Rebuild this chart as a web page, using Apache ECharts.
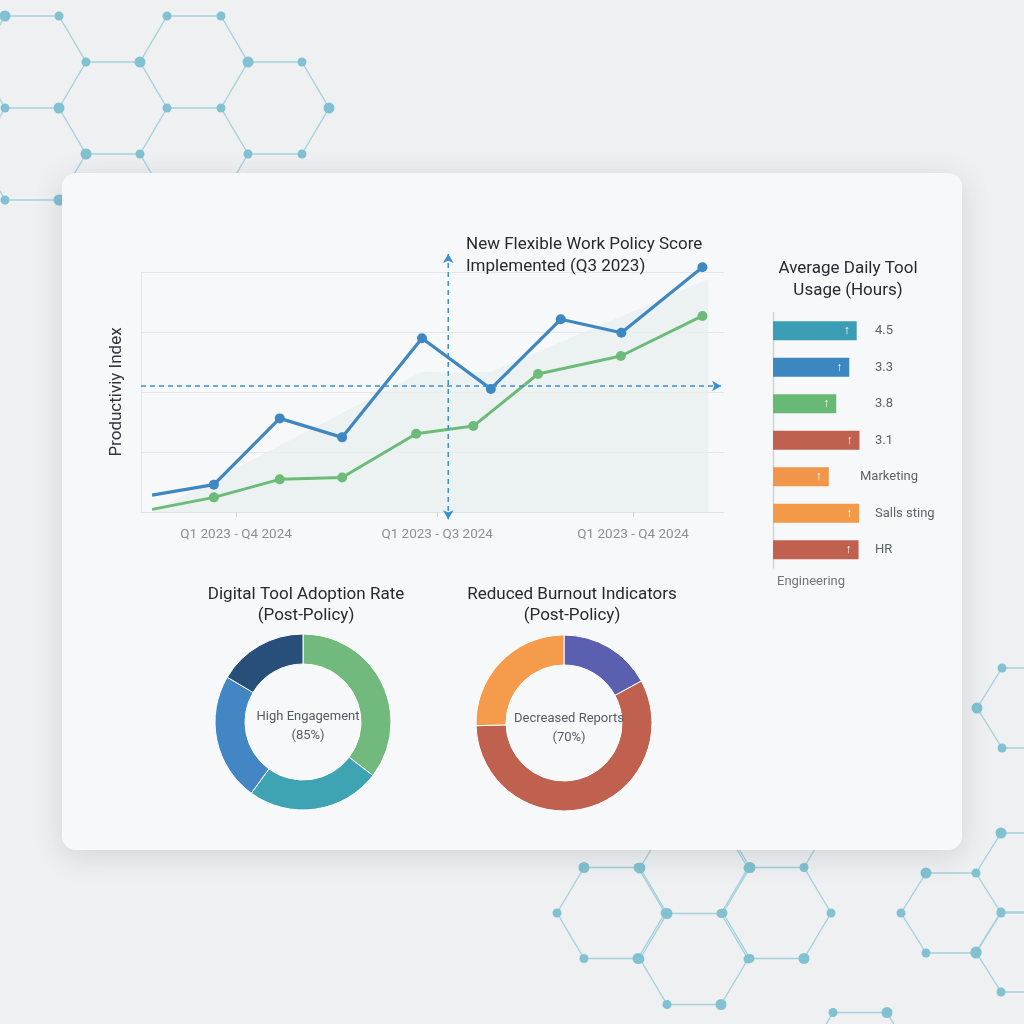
<!DOCTYPE html>
<html>
<head>
<meta charset="utf-8">
<script src="https://cdn.jsdelivr.net/npm/echarts@6/dist/echarts.min.js"></script>
<style>
  html, body { margin: 0; padding: 0; background: #eef0f2; }
  #main { width: 1024px; height: 1024px; }
</style>
</head>
<body>
<div id="main"></div>
<script>
// productivity lines (x on a 0..10 time scale, y = index 0..100)
const blueX  = [0.19, 1.25, 2.38, 3.45, 4.82, 6.0, 7.2, 8.24, 9.63];
const blueY  = [7, 11.4, 39, 31.1, 72.4, 51.3, 80.3, 74.7, 102];
const greenX = [0.19, 1.25, 2.38, 3.45, 4.72, 5.7, 6.81, 8.23, 9.63];
const greenY = [1.1, 6.1, 13.6, 14.4, 32.6, 35.8, 57.5, 65, 81.7];
const bandX  = [0.19, 4.82, 5.27, 6.0, 9.73];
const bandY  = [0, 58.5, 58, 58.3, 97];
const tickX  = [1.63, 5.08, 8.44];
const tickLabels = ['Q1 2023 - Q4 2024', 'Q1 2023 - Q3 2024', 'Q1 2023 - Q4 2024'];
const policyX = 5.27;
const policyRange = [107.5, -3];
const refY = 52.5;

// tool usage bars
const usageLabels = ['4.5', '3.3', '3.8', '3.1', 'Marketing', 'Salls sting', 'HR'];
const usageValues = [4.5, 4.1, 3.4, 4.65, 3.0, 4.63, 4.6];
const usageColors = ['#3a9db4', '#3d87c0', '#67b975', '#c0604f', '#f0954a', '#f39a48', '#c0604f'];

// donuts
const adoptionNames  = ['High', 'Moderate', 'Growing', 'Low'];
const adoptionValues = [35.4, 24.6, 23.5, 16.5];
const adoptionColors = ['#72b97e', '#3ea3b3', '#4287c4', '#284f7a'];
const burnoutNames  = ['Stable', 'Decreased', 'Improved'];
const burnoutValues = [17.1, 57.4, 25.5];
const burnoutColors = ['#5a5fb0', '#c0614f', '#f59c4c'];

const font = 'Roboto';

// decorative honeycomb in the page background
function honeycomb(cells, s, h) {
  const edges = new Map(), nodes = new Map(), els = [];
  cells.forEach(([cx, cy]) => {
    const v = [[cx - s / 2, cy - h], [cx + s / 2, cy - h], [cx + s, cy],
               [cx + s / 2, cy + h], [cx - s / 2, cy + h], [cx - s, cy]];
    v.forEach((p, i) => {
      const q = v[(i + 1) % 6];
      const key = [p, q].map(a => Math.round(a[0]) + ',' + Math.round(a[1])).sort().join('|');
      edges.set(key, [p, q]);
      nodes.set(Math.round(p[0]) + ',' + Math.round(p[1]), p);
    });
  });
  edges.forEach(([p, q]) => els.push({
    type: 'line', z: -10, silent: true,
    shape: { x1: p[0], y1: p[1], x2: q[0], y2: q[1] },
    style: { stroke: '#a3d2dc', lineWidth: 1.4 }
  }));
  let i = 0;
  nodes.forEach(p => els.push({
    type: 'circle', z: -9, silent: true,
    shape: { cx: p[0], cy: p[1], r: (i++ % 3) ? 4.5 : 5.5 },
    style: { fill: '#82c1d1' }
  }));
  return els;
}

const decor = [].concat(
  honeycomb([[32, 62], [113, 108], [194, 62], [275, 108], [32, 154], [194, 154], [113, 200]], 54, 46),
  honeycomb([[611, 913], [777, 913], [694, 959], [694, 868], [777, 822], [860, 1058]], 54, 45.5),
  honeycomb([[951, 913], [1026, 873], [1026, 952], [1027, 708]], 50, 40)
);

const card = {
  type: 'rect', z: -5, silent: true,
  shape: { x: 62, y: 173, width: 900, height: 677, r: 14 },
  style: { fill: '#f7f8f9', shadowBlur: 30, shadowColor: 'rgba(40,50,60,0.14)', shadowOffsetY: 6 }
};

const zip = (xs, ys) => xs.map((x, i) => [x, ys[i]]);
const pts = (xs, ys) => zip(xs, ys).map((p, i) => i === 0 ? { value: p, symbol: 'none' } : p);

const titleStyle = { fontFamily: font, fontSize: 17, fontWeight: 'normal', color: '#252a30', lineHeight: 22 };
const centerStyle = { fontFamily: font, fontSize: 13, fontWeight: 'normal', color: '#555b62', lineHeight: 19 };

const chart = echarts.init(document.getElementById('main'));
chart.setOption({
  backgroundColor: '#eef0f2',
  animation: false,
  graphic: { elements: decor.concat([card]) },
  title: [
    { text: 'New Flexible Work Policy Score\nImplemented (Q3 2023)', left: 461, top: 229, textStyle: titleStyle },
    { text: 'Average Daily Tool\nUsage (Hours)', left: 843, top: 253, textAlign: 'center', textStyle: titleStyle },
    { text: 'Engineering', left: 772, top: 570, textStyle: { fontFamily: font, fontSize: 13, fontWeight: 'normal', color: '#6f757c' } },
    { text: 'Digital Tool Adoption Rate\n(Post-Policy)', left: 301, top: 579, textAlign: 'center', textStyle: Object.assign({}, titleStyle, { lineHeight: 21 }) },
    { text: 'Reduced Burnout Indicators\n(Post-Policy)', left: 567, top: 579, textAlign: 'center', textStyle: Object.assign({}, titleStyle, { lineHeight: 21 }) },
    { text: 'High Engagement\n(85%)', left: 303, top: 702, textAlign: 'center', textStyle: centerStyle },
    { text: 'Decreased Reports\n(70%)', left: 564, top: 704, textAlign: 'center', textStyle: centerStyle }
  ],
  grid: [
    { left: 141, top: 272, width: 583, height: 240 },
    { left: 773, top: 312.5, width: 111.6, height: 255.5 }
  ],
  xAxis: [
    {
      gridIndex: 0, type: 'value', min: 0, max: 10,
      axisLine: { show: true, lineStyle: { color: '#dfe2e5' } },
      axisTick: { show: true, customValues: tickX, length: 5, lineStyle: { color: '#cfd3d7' } },
      axisLabel: {
        customValues: tickX, margin: 16, color: '#8b9096', fontFamily: font, fontSize: 13.5,
        formatter: v => tickLabels[tickX.indexOf(v)] || ''
      },
      splitLine: { show: false }
    },
    { gridIndex: 1, type: 'value', min: 0, max: 6, show: false }
  ],
  yAxis: [
    {
      gridIndex: 0, type: 'value', min: 0, max: 100, interval: 25,
      name: 'Productiviy Index', nameLocation: 'middle', nameGap: 16, nameRotate: 90,
      nameTextStyle: { fontFamily: font, fontSize: 17, color: '#30353b' },
      axisLine: { show: true, lineStyle: { color: '#e3e6e9' } },
      axisTick: { show: false }, axisLabel: { show: false },
      splitLine: { lineStyle: { color: '#e4e7ea' } }
    },
    {
      gridIndex: 1, type: 'category', inverse: true, data: usageLabels,
      axisLine: { show: true, lineStyle: { color: '#c9ccd0', width: 1.2 } },
      axisTick: { show: false }, axisLabel: { show: false }
    }
  ],
  series: [
    {
      type: 'line', xAxisIndex: 0, yAxisIndex: 0, data: zip(bandX, bandY), z: 1,
      symbol: 'none', silent: true, lineStyle: { width: 0 },
      areaStyle: { color: '#e8f0ef', opacity: 0.8 }
    },
    {
      type: 'line', xAxisIndex: 0, yAxisIndex: 0, data: pts(greenX, greenY), clip: false,
      symbol: 'circle', symbolSize: 10, itemStyle: { color: '#6dbb78' },
      lineStyle: { color: '#6dbb78', width: 3 }
    },
    {
      type: 'line', xAxisIndex: 0, yAxisIndex: 0, data: pts(blueX, blueY), clip: false,
      symbol: 'circle', symbolSize: 10, itemStyle: { color: '#3f87c1' },
      lineStyle: { color: '#3f87c1', width: 3.2 }
    },
    {
      type: 'line', xAxisIndex: 0, yAxisIndex: 0, clip: false, silent: true, z: 4,
      data: [
        { value: [policyX, policyRange[0]], symbolRotate: 0 },
        { value: [policyX, policyRange[1]], symbolRotate: 180 }
      ],
      symbol: 'arrow', symbolSize: [8, 9], itemStyle: { color: '#3b90cf' },
      lineStyle: { color: '#3b90cf', width: 1.5, type: [5, 4] }
    },
    {
      type: 'line', xAxisIndex: 0, yAxisIndex: 0, clip: false, silent: true, z: 4,
      data: [
        { value: [0, refY], symbol: 'none' },
        { value: [9.95, refY], symbol: 'arrow', symbolRotate: -90 }
      ],
      symbolSize: [8, 9], itemStyle: { color: '#3b90cf' },
      lineStyle: { color: '#3b90cf', width: 1.5, type: [5, 4] }
    },
    {
      type: 'bar', xAxisIndex: 1, yAxisIndex: 1, barWidth: 19, silent: true,
      data: usageValues.map((v, i) => ({
        value: v,
        itemStyle: { color: usageColors[i] },
        label: { position: [usageLabels[i] === 'Marketing' ? 87 : 102, '50%'] }
      })),
      label: {
        show: true, formatter: p => usageLabels[p.dataIndex], align: 'left', verticalAlign: 'middle',
        fontFamily: font, fontSize: 13, color: '#5d636a'
      }
    },
    {
      type: 'bar', xAxisIndex: 1, yAxisIndex: 1, barWidth: 19, barGap: '-100%', silent: true,
      data: usageValues, itemStyle: { color: 'rgba(0,0,0,0)' },
      label: { show: true, position: 'insideRight', distance: 7, formatter: '↑', color: '#ffffff', fontSize: 12, fontWeight: 'bold' }
    },
    {
      type: 'pie', center: [303, 722], radius: [58, 88], startAngle: 90, silent: true,
      label: { show: false }, labelLine: { show: false },
      itemStyle: { borderColor: '#ffffff', borderWidth: 1 },
      data: adoptionValues.map((v, i) => ({ name: adoptionNames[i], value: v, itemStyle: { color: adoptionColors[i] } }))
    },
    {
      type: 'pie', center: [564, 723], radius: [58, 88], startAngle: 90, silent: true,
      label: { show: false }, labelLine: { show: false },
      itemStyle: { borderColor: '#ffffff', borderWidth: 1 },
      data: burnoutValues.map((v, i) => ({ name: burnoutNames[i], value: v, itemStyle: { color: burnoutColors[i] } }))
    }
  ]
});
</script>
</body>
</html>
